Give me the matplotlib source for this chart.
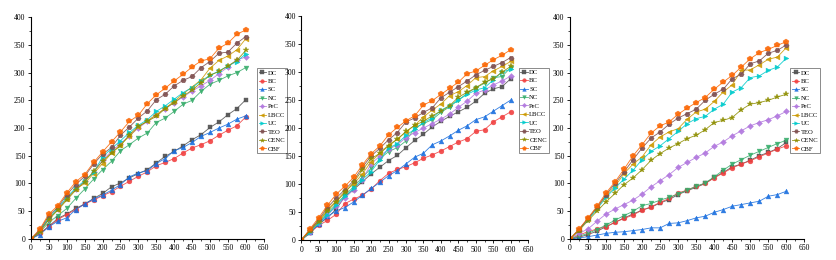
import matplotlib
matplotlib.use("Agg")
import matplotlib.pyplot as plt
from matplotlib.ticker import MultipleLocator

plt.rcParams["font.family"] = ["Liberation Serif", "DejaVu Serif"]

# eixo x comum aos tres graficos
x = [0, 25, 50, 75, 100, 125, 150, 175, 200, 225, 250, 275, 300,
     325, 350, 375, 400, 425, 450, 475, 500, 525, 550, 575, 600]

series_names = ["DC", "BC", "SC", "NC", "PeC", "LBCC", "UC", "TEO", "CENC", "CBF"]

# grafico 1
p1_DC = [0, 10, 23, 37, 45, 55, 63, 73, 82, 94, 101, 110, 118, 125, 137, 149, 158, 168, 179, 188, 201, 211, 224, 235, 251]
p1_BC = [0, 10, 22, 35, 44, 53, 63, 70, 78, 85, 95, 104, 113, 121, 132, 138, 145, 155, 164, 170, 177, 187, 196, 204, 220]
p1_SC = [0, 8, 22, 32, 38, 53, 63, 72, 79, 88, 98, 112, 119, 123, 136, 145, 159, 165, 174, 185, 192, 200, 207, 216, 222]
p1_NC = [0, 12, 30, 42, 55, 73, 90, 108, 125, 140, 159, 170, 182, 191, 210, 218, 230, 243, 250, 266, 279, 286, 294, 300, 309]
p1_PeC = [0, 14, 36, 54, 73, 90, 104, 120, 142, 158, 172, 186, 200, 212, 224, 235, 246, 256, 267, 276, 286, 298, 310, 323, 328]
p1_LBCC = [0, 14, 38, 53, 72, 90, 100, 118, 136, 155, 170, 185, 202, 213, 224, 236, 248, 262, 274, 287, 308, 322, 330, 341, 361]
p1_UC = [0, 15, 38, 55, 75, 92, 105, 120, 148, 163, 177, 192, 205, 215, 230, 240, 252, 264, 273, 285, 295, 303, 312, 320, 334]
p1_TEO = [0, 16, 42, 57, 80, 98, 113, 135, 153, 165, 187, 202, 218, 231, 251, 261, 276, 286, 293, 309, 320, 335, 337, 353, 365]
p1_CENC = [0, 13, 35, 52, 70, 88, 103, 122, 140, 155, 168, 188, 203, 212, 221, 235, 246, 258, 268, 282, 295, 302, 312, 322, 340]
p1_CBF = [0, 18, 45, 60, 83, 103, 116, 138, 157, 175, 193, 212, 223, 244, 260, 272, 285, 297, 310, 321, 325, 344, 353, 369, 377]

# grafico 2
p2_DC = [0, 12, 28, 40, 55, 78, 90, 104, 118, 130, 142, 151, 165, 178, 189, 202, 212, 221, 229, 237, 248, 262, 270, 274, 288]
p2_BC = [0, 14, 26, 35, 46, 65, 73, 80, 91, 106, 119, 126, 131, 138, 146, 152, 159, 167, 175, 181, 194, 197, 211, 220, 229]
p2_SC = [0, 14, 28, 42, 52, 58, 68, 80, 92, 103, 115, 124, 136, 148, 155, 170, 177, 186, 196, 204, 215, 220, 230, 240, 250]
p2_NC = [0, 18, 32, 48, 64, 80, 95, 112, 128, 145, 158, 165, 177, 200, 208, 215, 228, 238, 250, 262, 272, 280, 290, 292, 308]
p2_PeC = [0, 15, 30, 45, 60, 75, 90, 108, 136, 150, 162, 170, 183, 192, 200, 208, 216, 225, 237, 248, 262, 268, 277, 284, 293]
p2_LBCC = [0, 18, 35, 55, 70, 87, 100, 118, 140, 155, 170, 180, 193, 205, 220, 232, 243, 258, 265, 276, 290, 292, 302, 310, 319]
p2_UC = [0, 15, 30, 45, 62, 78, 92, 108, 122, 143, 164, 172, 187, 198, 210, 218, 232, 240, 250, 260, 268, 272, 286, 300, 305]
p2_TEO = [0, 18, 37, 58, 75, 90, 106, 130, 150, 164, 179, 192, 211, 218, 228, 236, 254, 264, 274, 284, 295, 303, 310, 317, 326]
p2_CENC = [0, 16, 33, 52, 68, 85, 103, 125, 145, 155, 168, 180, 194, 205, 212, 222, 230, 240, 255, 264, 272, 282, 288, 300, 310]
p2_CBF = [0, 20, 40, 62, 82, 96, 112, 134, 154, 168, 188, 201, 213, 222, 241, 249, 260, 271, 282, 297, 302, 312, 322, 330, 340]

# grafico 3
p3_DC = [0, 3, 8, 14, 22, 30, 38, 45, 52, 57, 65, 71, 80, 87, 93, 100, 111, 120, 130, 135, 142, 150, 156, 163, 174]
p3_BC = [0, 7, 13, 18, 22, 30, 37, 43, 52, 58, 66, 73, 83, 88, 95, 100, 110, 119, 128, 135, 141, 148, 155, 162, 168]
p3_SC = [0, 2, 4, 7, 10, 12, 13, 15, 17, 20, 20, 28, 29, 33, 38, 41, 48, 53, 59, 62, 65, 68, 77, 80, 86]
p3_NC = [0, 5, 10, 17, 25, 34, 42, 50, 60, 64, 70, 75, 81, 88, 95, 101, 112, 124, 135, 143, 151, 158, 165, 172, 178]
p3_PeC = [0, 10, 18, 32, 45, 54, 62, 70, 81, 94, 105, 116, 129, 138, 147, 155, 167, 175, 186, 195, 204, 210, 215, 222, 230]
p3_LBCC = [0, 17, 36, 55, 78, 95, 118, 135, 148, 170, 184, 193, 199, 216, 229, 234, 248, 265, 278, 304, 305, 314, 324, 328, 345]
p3_UC = [0, 16, 35, 54, 75, 92, 108, 124, 143, 158, 168, 181, 194, 208, 217, 221, 234, 243, 265, 273, 291, 294, 304, 310, 326]
p3_TEO = [0, 17, 37, 57, 80, 100, 121, 143, 164, 182, 193, 207, 218, 226, 234, 250, 261, 270, 289, 297, 316, 321, 335, 340, 350]
p3_CENC = [0, 15, 33, 50, 67, 82, 98, 110, 125, 142, 154, 164, 172, 181, 187, 197, 210, 214, 219, 233, 243, 246, 250, 256, 261]
p3_CBF = [0, 18, 38, 59, 83, 103, 126, 150, 170, 191, 204, 211, 225, 236, 246, 255, 270, 283, 295, 310, 325, 336, 342, 349, 356]

graficos = [
    [p1_DC, p1_BC, p1_SC, p1_NC, p1_PeC, p1_LBCC, p1_UC, p1_TEO, p1_CENC, p1_CBF],
    [p2_DC, p2_BC, p2_SC, p2_NC, p2_PeC, p2_LBCC, p2_UC, p2_TEO, p2_CENC, p2_CBF],
    [p3_DC, p3_BC, p3_SC, p3_NC, p3_PeC, p3_LBCC, p3_UC, p3_TEO, p3_CENC, p3_CBF],
]

# cores e marcadores estilo Origin
cores = ["#515151", "#F14040", "#1A6FDF", "#37AD6B", "#B177DE",
         "#CC9900", "#00CBCC", "#7D4E4E", "#8E8E00", "#FB6501"]
marcadores = ["s", "o", "^", "v", "D", "<", ">", "H", "*", "p"]
tamanhos = [3.2, 3.5, 3.5, 3.5, 3.0, 3.5, 3.5, 3.8, 4.2, 4.0]

# posicao dos eixos (left, bottom, width, height) em fracao da figura
posicoes = [
    [0.037, 0.081, 0.278, 0.853],
    [0.360, 0.077, 0.271, 0.861],
    [0.681, 0.081, 0.280, 0.853],
]
legenda_x = [0.972, 0.958, 0.94]

fig = plt.figure(figsize=(8.37, 2.6), dpi=100)

for g in range(3):
    ax = fig.add_axes(posicoes[g])
    for i in range(10):
        ax.plot(x, graficos[g][i], color=cores[i], marker=marcadores[i],
                markersize=tamanhos[i], linewidth=0.6, alpha=0.9,
                markeredgewidth=0.3, label=series_names[i])
    ax.set_xlim(0, 650)
    ax.set_ylim(0, 400)
    ax.xaxis.set_major_locator(MultipleLocator(50))
    ax.yaxis.set_major_locator(MultipleLocator(50))
    ax.xaxis.set_minor_locator(MultipleLocator(25))
    ax.yaxis.set_minor_locator(MultipleLocator(25))
    ax.spines["top"].set_visible(False)
    ax.spines["right"].set_visible(False)
    ax.spines["left"].set_linewidth(0.8)
    ax.spines["bottom"].set_linewidth(0.8)
    ax.tick_params(which="major", labelsize=5.5, length=2.5, width=0.6, pad=1.5)
    ax.tick_params(which="minor", length=1.5, width=0.5)
    leg = ax.legend(loc="upper left", bbox_to_anchor=(legenda_x[g], 0.77),
                    fontsize=4.8, frameon=True, fancybox=False,
                    labelspacing=0.42, handlelength=1.1, handletextpad=0.25,
                    borderpad=0.25, borderaxespad=0, markerscale=0.75)
    leg.get_frame().set_edgecolor("#555555")
    leg.get_frame().set_linewidth(0.6)

plt.savefig("out.png", dpi=100)
